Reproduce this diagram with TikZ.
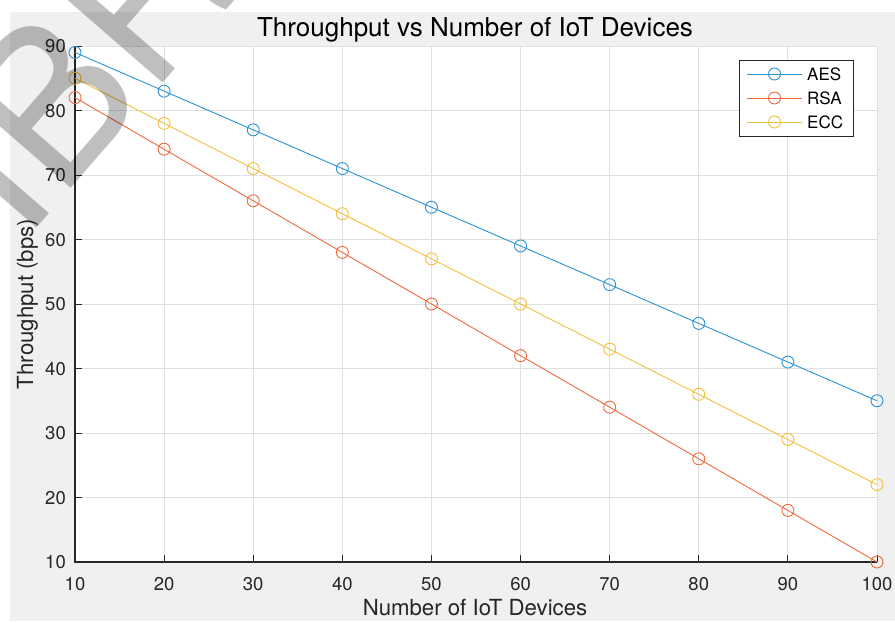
\documentclass[tikz,border=0pt]{standalone}
\usepackage{fontspec}
\setmainfont{TeX Gyre Heros}
\usetikzlibrary{calc}
\definecolor{figbg}{HTML}{F0F0F0}
\definecolor{gridc}{HTML}{E0E0E0}
\definecolor{axc}{HTML}{262626}
\definecolor{aesc}{HTML}{2A93D5}
\definecolor{rsac}{HTML}{EE6A3C}
\definecolor{eccc}{HTML}{F2BF3A}
\tikzset{
  ticklab/.style={font=\fontsize{18.5}{20}\selectfont, text=axc, inner sep=0pt},
  axlab/.style={font=\fontsize{22.2}{24}\selectfont, text=axc, inner sep=0pt},
  titlelab/.style={font=\fontsize{26}{28}\selectfont, text=black, inner sep=0pt},
  leglab/.style={font=\fontsize{17}{19}\selectfont, text=black, inner sep=0pt, anchor=base west},
  gridline/.style={draw=gridc, line width=0.8pt},
  axisline/.style={draw=axc, line width=1.1pt},
  series/.style={line width=0.9pt},
  markc/.style={line width=0.9pt, fill=none},
  wmark/.style={font=\fontsize{205}{205}\selectfont, text=black, text opacity=0.25, inner sep=0pt, rotate=49, anchor=base west}
}
\begin{document}
\begin{tikzpicture}[x=1pt, y=-1pt]
\useasboundingbox (0,0) rectangle (895,622);
\fill[white] (0,0) rectangle (895,622);
\fill[figbg] (10,12) rectangle (895,621);
\fill[white] (75,46) rectangle (877,562);
% data scope
\begin{scope}[shift={(-14.111,626.5)}, x={(8.9111pt,0pt)}, y={(0pt,6.45pt)}]
  \foreach \g in {20,30,...,100} \draw[gridline] (\g,10) -- (\g,90);
  \foreach \g in {20,30,...,90} \draw[gridline] (10,\g) -- (100,\g);
  % axes
  \draw[axisline] (10,90) -- (10,10) -- (100,10);
  \foreach \g in {20,30,...,100} \draw[axisline, line width=0.9pt] (\g,10) -- ++(0,7pt);
  \foreach \g in {20,30,...,90} \draw[axisline, line width=0.9pt] (10,\g) -- ++(7pt,0);
  % tick labels
  \foreach \g in {10,20,...,100} \node[ticklab, anchor=base] (xt\g) at ($(\g,10)+(0,-28pt)$) {\g};
  \foreach \g in {10,20,...,90} \node[ticklab, anchor=base east] (yt\g) at ($(10,\g)+(-9pt,-6.8pt)$) {\g};
  % series
  \draw[series, aesc] plot coordinates {(10,89) (20,83) (30,77) (40,71) (50,65) (60,59) (70,53) (80,47) (90,41) (100,35)};
  \foreach \a/\b in {10/89,20/83,30/77,40/71,50/65,60/59,70/53,80/47,90/41,100/35} \draw[markc, aesc] (\a,\b) circle[radius=6pt];
  \draw[series, rsac] plot coordinates {(10,82) (20,74) (30,66) (40,58) (50,50) (60,42) (70,34) (80,26) (90,18) (100,10)};
  \foreach \a/\b in {10/82,20/74,30/66,40/58,50/50,60/42,70/34,80/26,90/18,100/10} \draw[markc, rsac] (\a,\b) circle[radius=6pt];
  \draw[series, eccc] plot coordinates {(10,85) (20,78) (30,71) (40,64) (50,57) (60,50) (70,43) (80,36) (90,29) (100,22)};
  \foreach \a/\b in {10/85,20/78,30/71,40/64,50/57,60/50,70/43,80/36,90/29,100/22} \draw[markc, eccc] (\a,\b) circle[radius=6pt];
\end{scope}
% labels
\node[titlelab, anchor=base] (title) at (475,36.5) {Throughput vs Number of IoT Devices};
\node[axlab, anchor=base] (xlab) at (475,615) {Number of IoT Devices};
\node[axlab, anchor=base, rotate=90] (ylab) at (33,304) {Throughput (bps)};
% legend
\node[draw=axc, line width=0.8pt, fill=white, minimum width=114pt, minimum height=76pt, inner sep=0pt] (legbox) at (796,98) {};
\coordinate (la1) at (747,74); \coordinate (lb1) at (802,74);
\coordinate (la2) at (747,98); \coordinate (lb2) at (802,98);
\coordinate (la3) at (747,122); \coordinate (lb3) at (802,122);
\draw[series, aesc] (la1) -- (lb1); \draw[markc, aesc] ($(la1)!0.5!(lb1)$) circle[radius=6pt];
\draw[series, rsac] (la2) -- (lb2); \draw[markc, rsac] ($(la2)!0.5!(lb2)$) circle[radius=6pt];
\draw[series, eccc] (la3) -- (lb3); \draw[markc, eccc] ($(la3)!0.5!(lb3)$) circle[radius=6pt];
\node[leglab] (l1) at (807,80.5) {AES};
\node[leglab] (l2) at (807,104.5) {RSA};
\node[leglab] (l3) at (807,128.5) {ECC};
% watermark
\begin{scope}
  \clip (0,0) rectangle (895,622);
  \node[wmark] (wm) at (23,244) {IBR};
\end{scope}
\end{tikzpicture}
\end{document}
